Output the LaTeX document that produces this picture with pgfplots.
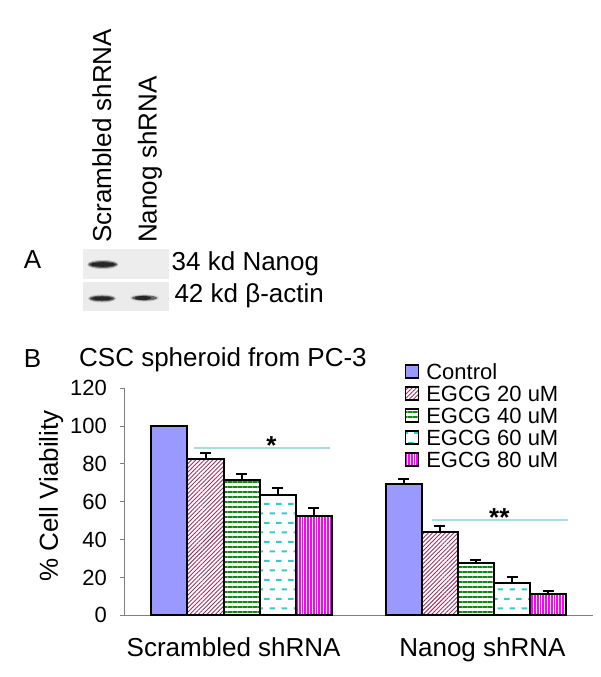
\documentclass[border=0pt]{standalone}
\usepackage{fontspec}
\setmainfont{Liberation Sans}
\usepackage{pgfplots}
\pgfplotsset{compat=1.18}
\usetikzlibrary{patterns,patterns.meta}
\definecolor{ctrl}{HTML}{9999FF}
\definecolor{c20}{HTML}{993366}
\definecolor{c40}{HTML}{118811}
\definecolor{c60}{HTML}{33CCCC}
\definecolor{c80}{HTML}{FF00FF}
\definecolor{sig}{HTML}{A8DCDC}
\definecolor{axgray}{HTML}{7F7F7F}
\pgfdeclarepatternformonly{cyandash}{\pgfqpoint{0pt}{0pt}}{\pgfqpoint{12pt}{19.4pt}}{\pgfqpoint{12pt}{19.4pt}}{%
  \pgfsetlinewidth{2pt}\pgfsetbuttcap
  \pgfpathmoveto{\pgfqpoint{0pt}{1.2pt}}\pgfpathlineto{\pgfqpoint{6pt}{1.2pt}}%
  \pgfpathmoveto{\pgfqpoint{6pt}{10.9pt}}\pgfpathlineto{\pgfqpoint{12pt}{10.9pt}}%
  \pgfusepath{stroke}}
\newcommand{\bigf}{\fontsize{26}{30}\selectfont}
\newcommand{\midf}{\fontsize{22}{26}\selectfont}
\begin{document}
\begin{tikzpicture}
\path[use as bounding box] (0,0) rectangle (600pt,677pt);
\begin{scope}[yshift=677pt, x=1pt, y=-1pt]
  % lane labels
  \node[font=\bigf, rotate=90, anchor=base west, inner sep=0pt] at (111,243) {Scrambled shRNA};
  \node[font=\bigf, rotate=90, anchor=base west, inner sep=0pt] at (156.5,243) {Nanog shRNA};
  \node[font=\bigf, anchor=base, inner sep=0pt] at (32.5,269) {A};
  % blot boxes
  \fill[black!7] (82.7,249.3) rectangle (168.7,279.3);
  \fill[black!8] (82.7,281.7) rectangle (168.7,310.7);
  % Nanog band
  \fill[black!25] (102.8,264.5) ellipse (15.5 and 4.6);
  \fill[black!60] (102.8,264.5) ellipse (14.5 and 3.4);
  \fill[black!85] (102.8,264.5) ellipse (12.5 and 2.3);
  % actin bands
  \fill[black!25] (102,298.5) ellipse (14 and 4);
  \fill[black!65] (102,298.5) ellipse (12.5 and 2.8);
  \fill[black!85] (102,298.5) ellipse (10 and 1.8);
  \fill[black!20] (144.5,298) ellipse (14.5 and 3.6);
  \fill[black!60] (144.5,298) ellipse (12.5 and 2.6);
  \fill[black!85] (143,298) ellipse (8 and 2);
  \node[font=\bigf, anchor=base west, inner sep=0pt] at (171.5,270.5) {34 kd Nanog};
  \node[font=\bigf, anchor=base west, inner sep=0pt] at (174.3,302.5) {42 kd β-actin};
  % panel B titles
  \node[font=\bigf, anchor=base, inner sep=0pt] at (32.5,367.5) {B};
  \node[font=\bigf, anchor=base west, inner sep=0pt] at (79,367) {CSC spheroid from PC-3};
  \node[font=\bigf, rotate=90, anchor=base, inner sep=0pt] at (57.8,496) {\% Cell Viability};
\end{scope}
\begin{axis}[
  at={(124.5pt,61.7pt)}, anchor=south west,
  scale only axis, width=468.5pt, height=227pt,
  xmin=-0.5, xmax=1.5, ymin=0, ymax=120,
  ybar=0pt, bar width=36.12pt,
  axis x line*=bottom, axis y line*=left,
  axis line style={draw=axgray, line width=1pt},
  ytick={0,20,...,120},
  xtick={-0.034,1.028}, xticklabels={Scrambled shRNA, Nanog shRNA},
  x tick style={draw=none},
  y tick style={draw=axgray, line width=1pt},
  major tick length=5pt, tick align=outside,
  /pgf/number format/assume math mode=true,
  yticklabel style={font=\midf, anchor=east, inner sep=0pt, xshift=-12.5pt},
  xticklabel style={font=\bigf, anchor=base, inner sep=0pt, yshift=-35.7pt},
  error bars/y dir=plus, error bars/y explicit,
  error bars/error bar style={line width=2pt, black},
  error bars/error mark options={rotate=90, mark size=5.5pt, line width=2pt, black},
  legend style={at={(0.5987,1.1066)}, anchor=north west, draw=none, fill=none,
    inner sep=0pt, outer sep=0pt, row sep=0pt, column sep=7pt, font=\midf,
    nodes={inner sep=0pt, text height=15.5pt, text depth=6.5pt, anchor=base west}},
  legend cell align=left,
  legend image code/.code={\draw[#1, line width=1.3pt] (0pt,1.5pt) rectangle (13pt,14.5pt);},
  clip=false,
]
\addplot[draw=black, line width=2pt, fill=ctrl] coordinates {(0,100) +- (0,0) (1,69.4) +- (0,2.9)};
\addplot[draw=black, line width=2pt, pattern={Lines[angle=45,distance=3pt,line width=0.9pt]}, pattern color=c20] coordinates {(0,82.7) +- (0,3.0) (1,43.8) +- (0,3.2)};
\addplot[draw=black, line width=2pt, pattern={Lines[angle=0,distance=5pt,line width=2pt]}, pattern color=c40] coordinates {(0,71.7) +- (0,2.8) (1,27.6) +- (0,1.8)};
\addplot[draw=black, line width=2pt, pattern=cyandash, pattern color=c60] coordinates {(0,63.4) +- (0,3.7) (1,17.3) +- (0,2.8)};
\addplot[draw=black, line width=2pt, pattern={Lines[angle=90,distance=2.8pt,line width=1.8pt]}, pattern color=c80] coordinates {(0,52.7) +- (0,4.0) (1,11.0) +- (0,1.6)};
\legend{Control, EGCG 20 uM, EGCG 40 uM, EGCG 60 uM, EGCG 80 uM}
\draw[sig, line width=2pt] (axis cs:-0.202,88.4) -- (axis cs:0.377,88.4);
\draw[sig, line width=2pt] (axis cs:0.8127,50.4) -- (axis cs:1.392,50.4);
\node[font=\bigf\bfseries, anchor=base, inner sep=0pt] at (axis cs:0.127,85.1) {*};
\node[font=\bigf\bfseries, anchor=base, inner sep=0pt] at (axis cs:1.100,47.0) {**};
\end{axis}
\end{tikzpicture}
\end{document}
